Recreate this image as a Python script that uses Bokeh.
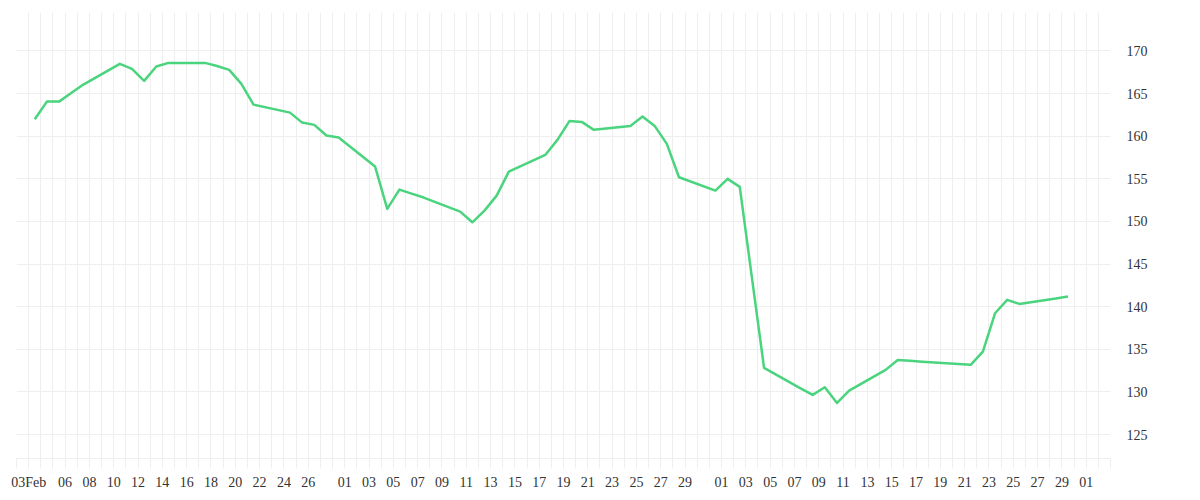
import pandas as pd
from bokeh.plotting import figure
from bokeh.models import FixedTicker, ColumnDataSource
from bokeh.embed import file_html
from bokeh.resources import INLINE

# ---- data ----
dates = [
    "2025-02-03", "2025-02-04", "2025-02-05", "2025-02-06", "2025-02-07",
    "2025-02-10", "2025-02-11", "2025-02-12", "2025-02-13", "2025-02-14",
    "2025-02-17", "2025-02-18", "2025-02-19", "2025-02-20", "2025-02-21",
    "2025-02-24", "2025-02-25", "2025-02-26", "2025-02-27", "2025-02-28",
    "2025-03-03", "2025-03-04", "2025-03-05", "2025-03-06", "2025-03-07",
    "2025-03-10", "2025-03-11", "2025-03-12", "2025-03-13", "2025-03-14",
    "2025-03-17", "2025-03-18", "2025-03-19", "2025-03-20", "2025-03-21",
    "2025-03-24", "2025-03-25", "2025-03-26", "2025-03-27", "2025-03-28",
    "2025-03-31", "2025-04-01", "2025-04-02", "2025-04-03", "2025-04-04",
    "2025-04-07", "2025-04-08", "2025-04-09", "2025-04-10", "2025-04-11",
    "2025-04-14", "2025-04-15", "2025-04-16", "2025-04-17",
    "2025-04-21", "2025-04-22", "2025-04-23", "2025-04-24", "2025-04-25",
    "2025-04-28", "2025-04-29",
]
prices = [
    161.98, 164.05, 164.05, 165.05, 166.05,
    168.48, 167.89, 166.48, 168.16, 168.59,
    168.59, 168.22, 167.77, 166.13, 163.70,
    162.76, 161.59, 161.32, 160.07, 159.83,
    156.43, 151.47, 153.73, 153.26, 152.80,
    151.15, 149.90, 151.27, 153.03, 155.84,
    157.80, 159.56, 161.79, 161.67, 160.74,
    161.20, 162.30, 161.20, 159.09, 155.18,
    153.62, 154.99, 154.05, 143.41, 132.82,
    130.43, 129.66, 130.55, 128.72, 130.16,
    132.59, 133.76, 133.66, 133.54,
    133.18, 134.74, 139.23, 140.80, 140.33,
    140.95, 141.19,
]

axis_start = "2025-02-02"
axis_end = "2025-05-03"
tick_labels = {
    "2025-02-03": "03Feb", "2025-02-06": "06", "2025-02-08": "08",
    "2025-02-10": "10", "2025-02-12": "12", "2025-02-14": "14",
    "2025-02-16": "16", "2025-02-18": "18", "2025-02-20": "20",
    "2025-02-22": "22", "2025-02-24": "24", "2025-02-26": "26",
    "2025-03-01": "01", "2025-03-03": "03", "2025-03-05": "05",
    "2025-03-07": "07", "2025-03-09": "09", "2025-03-11": "11",
    "2025-03-13": "13", "2025-03-15": "15", "2025-03-17": "17",
    "2025-03-19": "19", "2025-03-21": "21", "2025-03-23": "23",
    "2025-03-25": "25", "2025-03-27": "27", "2025-03-29": "29",
    "2025-04-01": "01", "2025-04-03": "03", "2025-04-05": "05",
    "2025-04-07": "07", "2025-04-09": "09", "2025-04-11": "11",
    "2025-04-13": "13", "2025-04-15": "15", "2025-04-17": "17",
    "2025-04-19": "19", "2025-04-21": "21", "2025-04-23": "23",
    "2025-04-25": "25", "2025-04-27": "27", "2025-04-29": "29",
    "2025-05-01": "01",
}
y_ticks = [125, 130, 135, 140, 145, 150, 155, 160, 165, 170]
y_min, y_max = 122.2, 174.5

# ---- build ----
t0 = pd.Timestamp(axis_start)
n_days = (pd.Timestamp(axis_end) - t0).days
xs = [(pd.Timestamp(d) - t0).days + 0.5 for d in dates]   # daily values drawn at mid-day

src = ColumnDataSource(dict(x=xs, y=prices))

GRID = "#eeeeee"
TXT = "#333333"
FONT = "Liberation Serif"

p = figure(width=1192, height=492, output_backend="svg", toolbar_location=None,
           x_range=(0, n_days), y_range=(y_min, y_max), y_axis_location="right",
           min_border_left=16, min_border_right=82, min_border_top=12, min_border_bottom=34)
p.outline_line_color = None
p.background_fill_color = "white"

p.line("x", "y", source=src, line_color="#4ad47e", line_width=2.5, line_join="round")

day_ticks = list(range(0, n_days + 1))
overrides = {i: "" for i in day_ticks}
for d, lab in tick_labels.items():
    overrides[(pd.Timestamp(d) - t0).days] = lab

xa = p.xaxis[0]
xa.ticker = FixedTicker(ticks=day_ticks)
xa.major_label_overrides = overrides
xa.major_tick_out = 10
xa.major_tick_in = 0
xa.minor_tick_out = 0
xa.minor_tick_in = 0
xa.major_tick_line_color = GRID
xa.axis_line_color = GRID
xa.major_label_text_font = FONT
xa.major_label_text_font_size = "14px"
xa.major_label_text_color = TXT
xa.major_label_standoff = 6

ya = p.yaxis[0]
ya.ticker = FixedTicker(ticks=y_ticks)
ya.major_tick_out = 0
ya.major_tick_in = 0
ya.minor_tick_out = 0
ya.minor_tick_in = 0
ya.axis_line_color = None
ya.major_label_text_font = FONT
ya.major_label_text_font_size = "14px"
ya.major_label_text_color = TXT
ya.major_label_standoff = 16

p.xgrid.ticker = FixedTicker(ticks=day_ticks)
p.xgrid.grid_line_color = GRID
p.ygrid.grid_line_color = GRID

open("out.html", "w").write(file_html(p, INLINE))
